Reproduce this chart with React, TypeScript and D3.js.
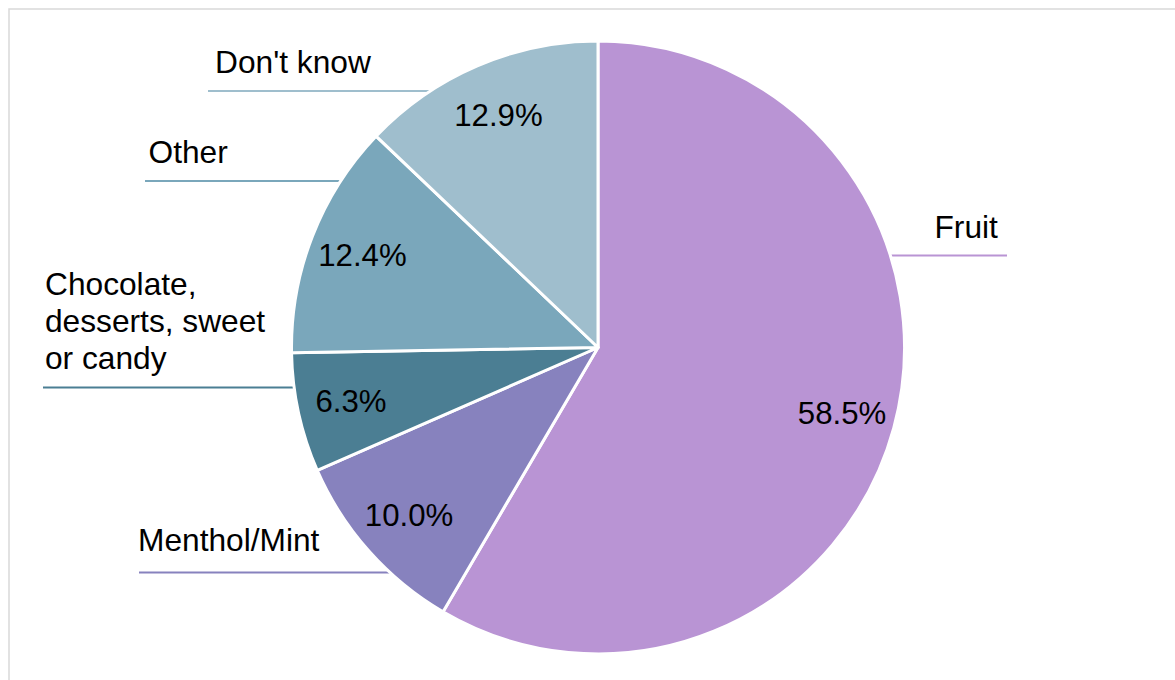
import React from "react";
import * as d3 from "d3";

const categories = ["Fruit", "Menthol/Mint", "Chocolate, desserts, sweet or candy", "Other", "Don't know"];
const values = [58.5, 10.0, 6.3, 12.4, 12.9];
const labelLines = [["Fruit"], ["Menthol/Mint"], ["Chocolate,", "desserts, sweet", "or candy"], ["Other"], ["Don't know"]];
const colors = ["#B994D4", "#8782BE", "#4B7E93", "#7AA7BB", "#9FBECD"];

// label layout (text x, first baseline, leader line y, line x extent)
const labelLayout = [
  { tx: 934.5, ty: 238, ly: 255.5, x1: 860, x2: 1007 },
  { tx: 138, ty: 551, ly: 572.5, x1: 139, x2: 420 },
  { tx: 45, ty: 295, ly: 387.5, x1: 43, x2: 320 },
  { tx: 148.5, ty: 163, ly: 181, x1: 145, x2: 370 },
  { tx: 215, ty: 72.5, ly: 91, x1: 208, x2: 460 },
];

const W = 1175;
const H = 680;
const cx = 598;
const cy = 347.5;
const R = 306.5;
const FONT = "'Liberation Sans', Arial, Helvetica, sans-serif";
const FS = 31.7;
const FS_PCT = 31.2;

export default function App() {
  const pie = d3.pie<number>().sort(null).value((d) => d)(values);
  const arc = d3.arc<d3.PieArcDatum<number>>().innerRadius(0).outerRadius(R);
  const lr = R * 0.825;
  const labelArc = d3.arc<d3.PieArcDatum<number>>().innerRadius(lr).outerRadius(lr);
  const fmt = d3.format(".1f");

  return (
    <svg
      width={W}
      height={H}
      style={{ position: "absolute", left: 0, top: 0, display: "block", background: "#fff" }}
    >
      <rect x={9} y={9} width={W + 20} height={H + 20} fill="#fff" stroke="#D9D9D9" strokeWidth={1.5} />
      {labelLayout.map((l, i) => (
        <line key={"ll" + i} x1={l.x1} x2={l.x2} y1={l.ly} y2={l.ly} stroke={colors[i]} strokeWidth={2} />
      ))}
      <g transform={`translate(${cx},${cy})`}>
        {pie.map((p, i) => (
          <path key={"s" + i} d={arc(p) || ""} fill={colors[i]} stroke="#fff" strokeWidth={3} strokeLinejoin="round" />
        ))}
        {pie.map((p, i) => {
          const [x, y] = labelArc.centroid(p);
          return (
            <text
              key={"p" + i}
              x={x}
              y={y}
              textAnchor="middle"
              dominantBaseline="central"
              fontFamily={FONT}
              fontSize={FS_PCT}
              fill="#000"
            >
              {fmt(values[i]) + "%"}
            </text>
          );
        })}
      </g>
      {labelLines.map((lines, i) => (
        <text key={"t" + i} fontFamily={FONT} fontSize={FS} fill="#000">
          {lines.map((s, j) => (
            <tspan key={j} x={labelLayout[i].tx} y={labelLayout[i].ty + j * 37}>
              {s}
            </tspan>
          ))}
        </text>
      ))}
    </svg>
  );
}
